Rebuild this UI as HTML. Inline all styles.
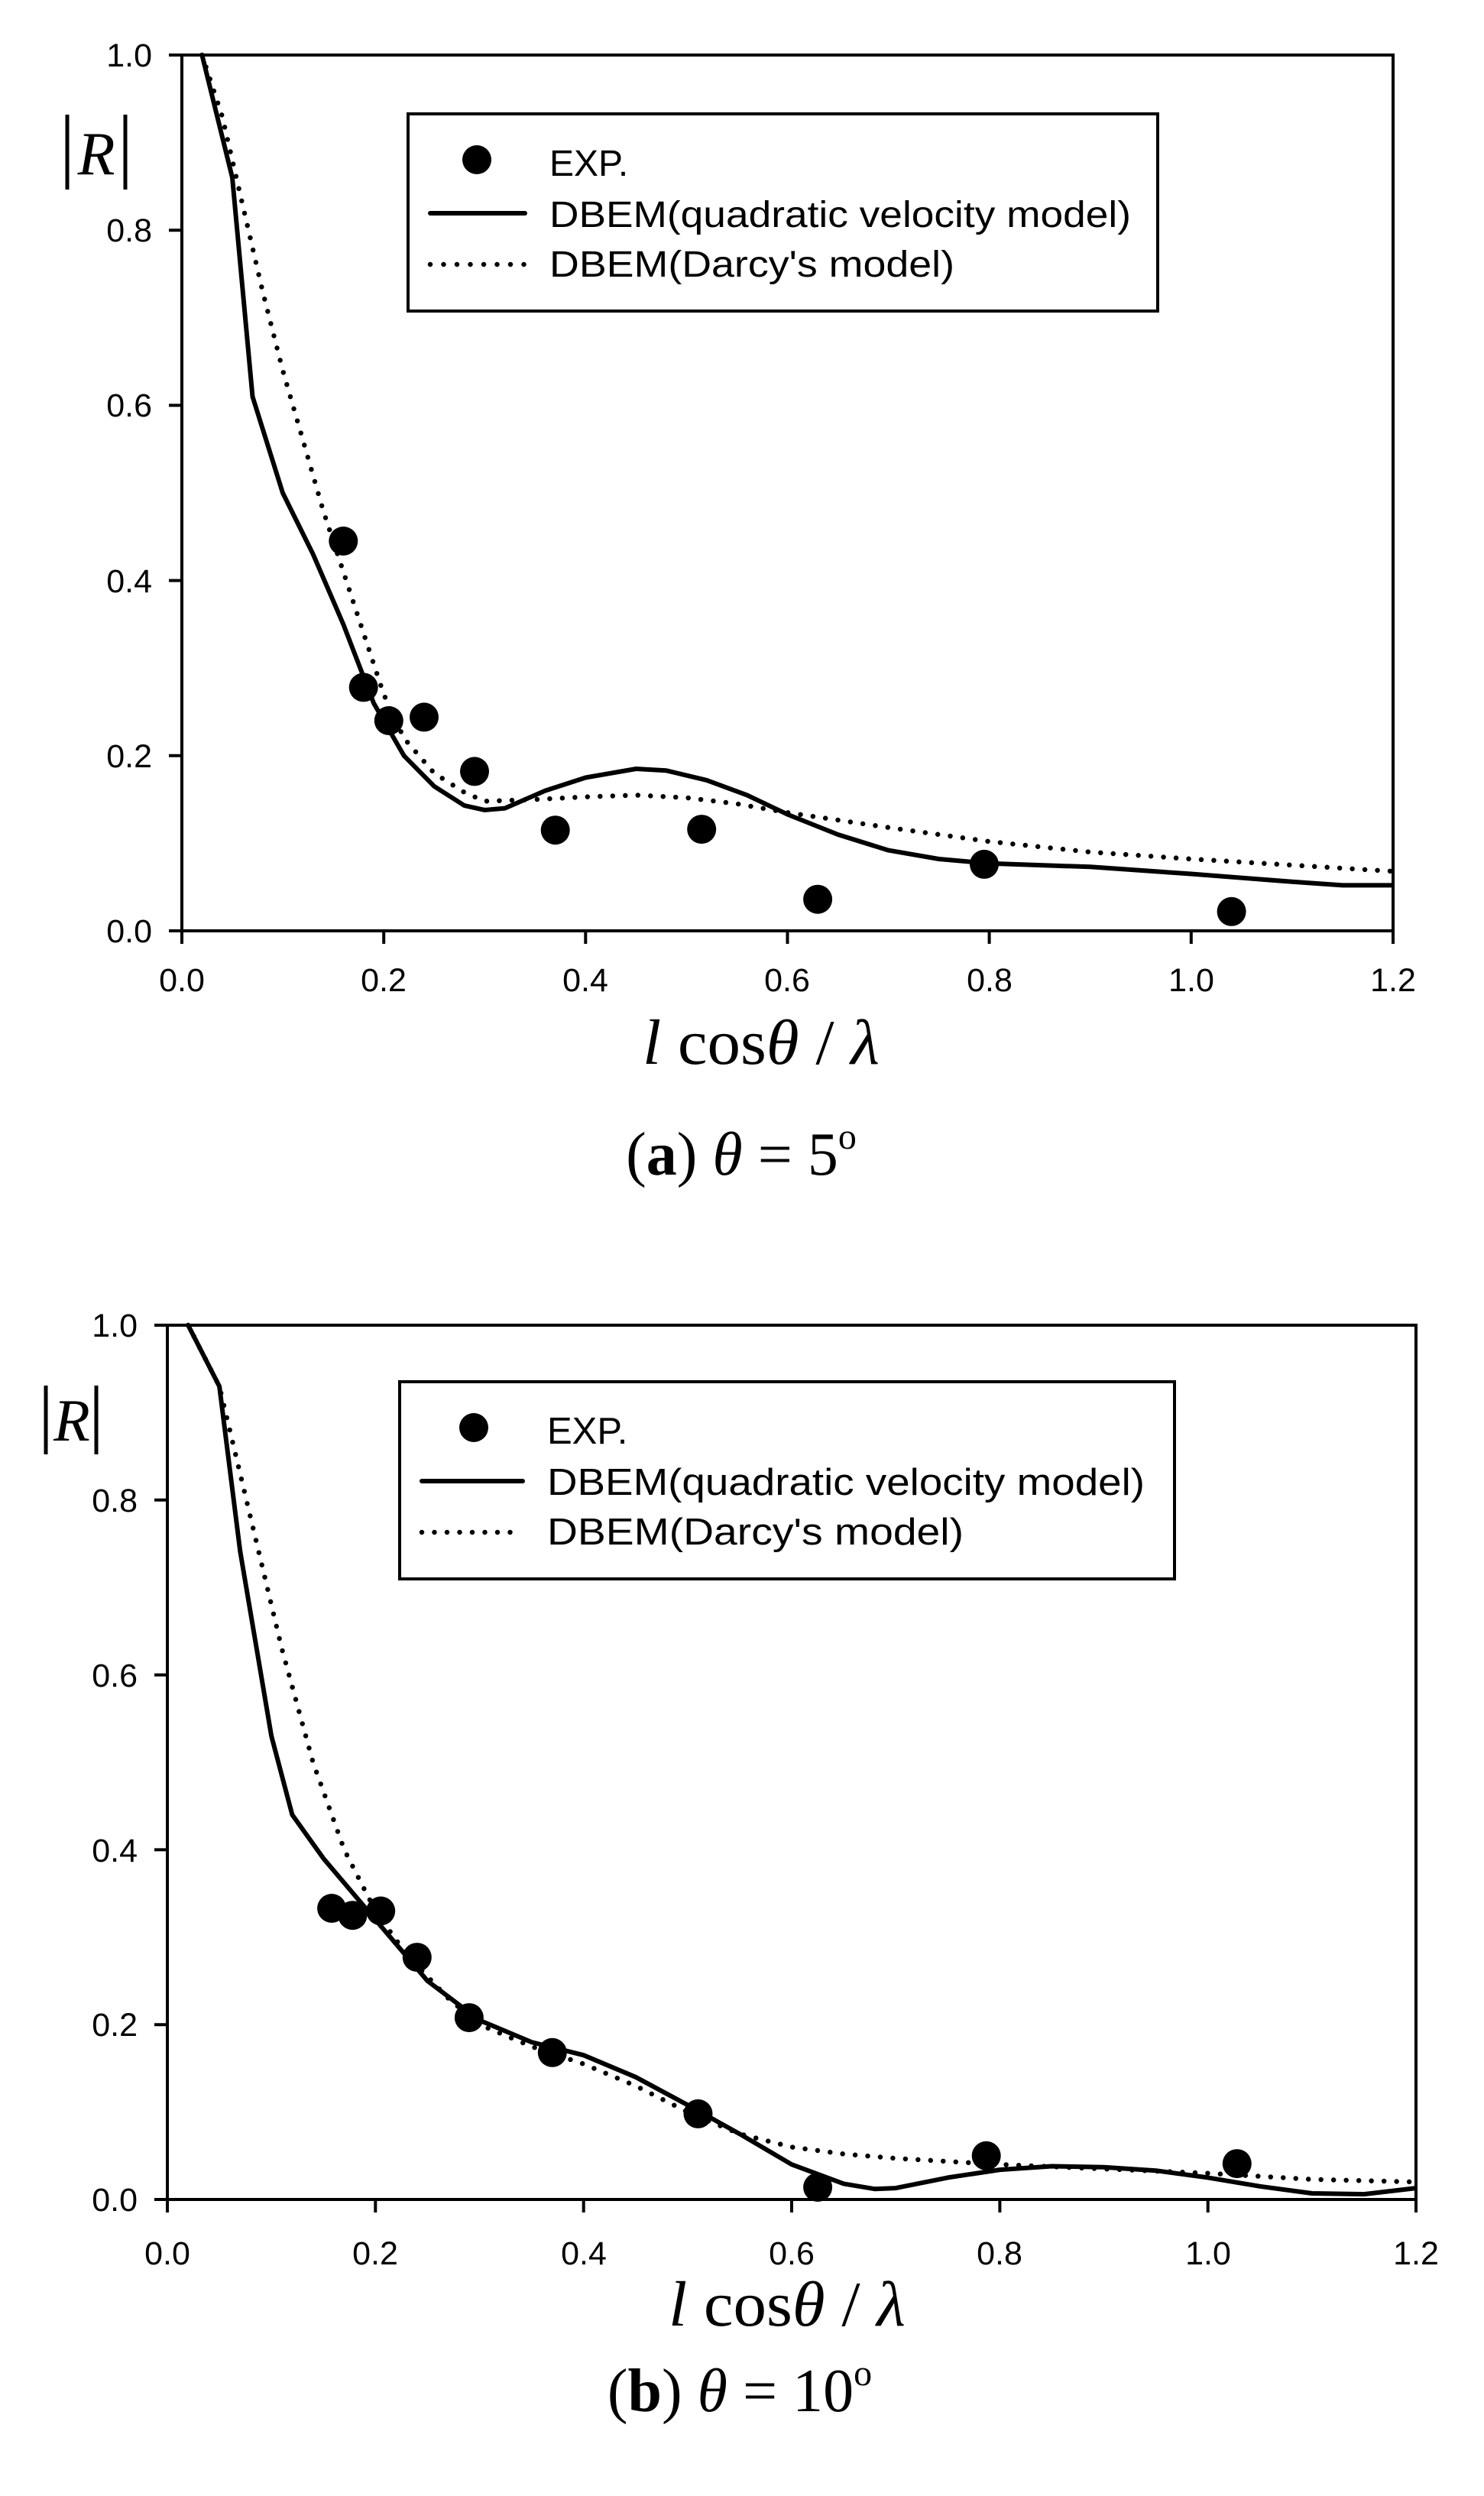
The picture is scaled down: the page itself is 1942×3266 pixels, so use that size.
<!DOCTYPE html>
<html><head><meta charset="utf-8"><style>html,body{margin:0;padding:0;background:#fff}svg{display:block}</style></head>
<body>
<svg width="1942" height="3266" viewBox="0 0 1942 3266" xmlns="http://www.w3.org/2000/svg">
<rect width="1942" height="3266" fill="#fff"/>
<!-- ============ PLOT A ============ -->
<g stroke="#000" stroke-width="4" fill="none">
<rect x="238" y="72" width="1585" height="1146"/>
<path d="M221 72H238M221 301.2H238M221 530.4H238M221 759.6H238M221 988.8H238M221 1218H238"/>
<path d="M238 1218V1235M502.2 1218V1235M766.3 1218V1235M1030.5 1218V1235M1294.6 1218V1235M1558.8 1218V1235M1823 1218V1235"/>
</g>
<g font-family="Liberation Sans, sans-serif" font-size="43" fill="#000" text-anchor="end">
<text x="199" y="87">1.0</text><text x="199" y="316">0.8</text><text x="199" y="545">0.6</text>
<text x="199" y="775">0.4</text><text x="199" y="1004">0.2</text><text x="199" y="1233">0.0</text>
</g>
<g font-family="Liberation Sans, sans-serif" font-size="43" fill="#000" text-anchor="middle">
<text x="238" y="1297">0.0</text><text x="502" y="1297">0.2</text><text x="766" y="1297">0.4</text>
<text x="1030" y="1297">0.6</text><text x="1295" y="1297">0.8</text><text x="1559" y="1297">1.0</text><text x="1823" y="1297">1.2</text>
</g>
<path fill="none" stroke="#000" stroke-width="6" stroke-linejoin="round" d="M264.4 72L304 232.4L330.5 519L370 645L409.7 725.2L449.3 816.9L489 920L528.6 988.8L568.2 1028.9L607.8 1054.1L634.2 1059.9L660.7 1057.6L713.5 1034.6L766.3 1017.5L832.4 1006L872 1008.3L924.8 1020.9L977.6 1040.4L1030.5 1065.6L1096.5 1092L1162.6 1112.6L1228.6 1124L1294.6 1129.8L1426.7 1134.3L1558.8 1143.5L1690.9 1153.8L1756.9 1158.4L1823 1158.4"/>
<path fill="none" stroke="#000" stroke-width="6.5" stroke-linecap="round" stroke-dasharray="0 16.5" d="M264.4 72L290.8 152.2L317.2 266.8L343.7 381.4L370 484.6L396.5 576.2L422.9 668L449.3 748.1L475.7 828.4L502.2 908.6L528.6 965.9L568.2 1011.7L607.8 1036.9L634.2 1048.4L700.3 1046.1L766.3 1042.7L832.4 1040.4L898.4 1043.8L964.4 1051.8L1030.5 1063.3L1162.6 1082.8L1294.6 1101.1L1426.7 1114.9L1558.8 1124L1690.9 1132L1823 1140.1"/>
<g fill="#000">
<circle cx="449.3" cy="708" r="19"/><circle cx="475.7" cy="899.4" r="19"/><circle cx="508.8" cy="943" r="19"/>
<circle cx="555" cy="938.4" r="19"/><circle cx="621" cy="1009.4" r="19"/><circle cx="726.7" cy="1086.2" r="19"/>
<circle cx="918.2" cy="1085.1" r="19"/><circle cx="1070.1" cy="1176.7" r="19"/><circle cx="1288" cy="1130.9" r="19"/>
<circle cx="1611.6" cy="1192.8" r="19"/>
</g>
<!-- legend a -->
<rect x="534" y="149" width="981" height="258" fill="#fff" stroke="#000" stroke-width="4"/>
<circle cx="624" cy="209" r="19" fill="#000"/>
<line x1="563" y1="279" x2="687" y2="279" stroke="#000" stroke-width="6" stroke-linecap="round"/>
<line x1="563" y1="346" x2="687" y2="346" stroke="#000" stroke-width="6.5" stroke-linecap="round" stroke-dasharray="0 17.5"/>
<g font-family="Liberation Sans, sans-serif" font-size="48" fill="#000">
<text x="719" y="230">EXP.</text>
<text x="719" y="297" textLength="761" lengthAdjust="spacingAndGlyphs">DBEM(quadratic velocity model)</text>
<text x="719" y="362" textLength="530" lengthAdjust="spacingAndGlyphs">DBEM(Darcy's model)</text>
</g>
<!-- |R| a -->
<g stroke="#000" stroke-width="5"><line x1="88" y1="150" x2="88" y2="248"/><line x1="164" y1="150" x2="164" y2="248"/></g>
<text x="126" y="228" font-family="Liberation Serif, serif" font-style="italic" font-size="80" text-anchor="middle">R</text>
<text x="996" y="1392" font-family="Liberation Serif, serif" font-size="84" text-anchor="middle" textLength="310" lengthAdjust="spacingAndGlyphs"><tspan font-style="italic">l</tspan> cos<tspan font-style="italic">θ</tspan> / <tspan font-style="italic">λ</tspan></text>
<text x="970" y="1537" font-family="Liberation Serif, serif" font-size="80" text-anchor="middle">(<tspan font-weight="bold">a</tspan>)   <tspan font-style="italic">θ</tspan> = 5<tspan font-size="48" dy="-34">o</tspan></text>

<!-- ============ PLOT B ============ -->
<g stroke="#000" stroke-width="4" fill="none">
<rect x="219" y="1734" width="1634" height="1144"/>
<path d="M202 1734H219M202 1962.8H219M202 2191.6H219M202 2420.4H219M202 2649.2H219M202 2878H219"/>
<path d="M219 2878V2895M491.3 2878V2895M763.7 2878V2895M1036 2878V2895M1308.4 2878V2895M1580.7 2878V2895M1853 2878V2895"/>
</g>
<g font-family="Liberation Sans, sans-serif" font-size="43" fill="#000" text-anchor="end">
<text x="180" y="1749">1.0</text><text x="180" y="1978">0.8</text><text x="180" y="2207">0.6</text>
<text x="180" y="2436">0.4</text><text x="180" y="2664">0.2</text><text x="180" y="2893">0.0</text>
</g>
<g font-family="Liberation Sans, sans-serif" font-size="43" fill="#000" text-anchor="middle">
<text x="219" y="2963">0.0</text><text x="491" y="2963">0.2</text><text x="764" y="2963">0.4</text>
<text x="1036" y="2963">0.6</text><text x="1308" y="2963">0.8</text><text x="1581" y="2963">1.0</text><text x="1853" y="2963">1.2</text>
</g>
<path fill="none" stroke="#000" stroke-width="6" stroke-linejoin="round" d="M246.2 1734L287.1 1814.1L314.3 2030L355.2 2271.7L382.4 2374.6L423.3 2431.8L491.3 2511.9L559.4 2592L627.5 2643.5L695.6 2672.1L763.7 2689.2L831.8 2717.8L899.9 2754.4L967.9 2792.2L1036 2832.2L1104.1 2857.4L1145 2864.3L1172.2 2863.1L1240.3 2849.4L1308.4 2839.1L1376.4 2834.5L1444.5 2835.7L1512.6 2840.2L1580.7 2849.4L1648.8 2860.8L1716.9 2870L1784.9 2871.1L1853 2863.1"/>
<path fill="none" stroke="#000" stroke-width="6.5" stroke-linecap="round" stroke-dasharray="0 16.5" d="M246.2 1734L287.1 1814.1L327.9 1985.7L368.8 2157.3L409.6 2306L450.5 2420.4L491.3 2500.5L532.2 2557.7L586.7 2614.9L627.5 2649.2L695.6 2677.8L763.7 2700.7L831.8 2729.3L899.9 2763.6L967.9 2792.2L1036 2809.4L1104.1 2818.5L1172.2 2824.2L1308.4 2832.2L1444.5 2838L1580.7 2843.7L1716.9 2851.7L1853 2855.1"/>
<g fill="#000">
<circle cx="434.1" cy="2497" r="19"/><circle cx="461.4" cy="2506.2" r="19"/><circle cx="498.2" cy="2500.5" r="19"/>
<circle cx="545.8" cy="2561.1" r="19"/><circle cx="613.9" cy="2640.1" r="19"/><circle cx="722.8" cy="2685.8" r="19"/>
<circle cx="913.5" cy="2765.9" r="19"/><circle cx="1070.1" cy="2862" r="19"/><circle cx="1290.7" cy="2820.8" r="19"/>
<circle cx="1618.8" cy="2831.1" r="19"/>
</g>
<!-- legend b -->
<rect x="523" y="1808" width="1014" height="258" fill="#fff" stroke="#000" stroke-width="4"/>
<circle cx="620" cy="1868" r="19" fill="#000"/>
<line x1="552" y1="1938" x2="684" y2="1938" stroke="#000" stroke-width="6" stroke-linecap="round"/>
<line x1="552" y1="2005" x2="684" y2="2005" stroke="#000" stroke-width="6.5" stroke-linecap="round" stroke-dasharray="0 16.5"/>
<g font-family="Liberation Sans, sans-serif" font-size="49" fill="#000">
<text x="716" y="1889">EXP.</text>
<text x="716" y="1956" textLength="782" lengthAdjust="spacingAndGlyphs">DBEM(quadratic velocity model)</text>
<text x="716" y="2021" textLength="545" lengthAdjust="spacingAndGlyphs">DBEM(Darcy's model)</text>
</g>
<!-- |R| b -->
<g stroke="#000" stroke-width="5"><line x1="60" y1="1813" x2="60" y2="1903"/><line x1="126" y1="1813" x2="126" y2="1903"/></g>
<text x="94" y="1885" font-family="Liberation Serif, serif" font-style="italic" font-size="78" text-anchor="middle">R</text>
<text x="1030" y="3043" font-family="Liberation Serif, serif" font-size="84" text-anchor="middle" textLength="310" lengthAdjust="spacingAndGlyphs"><tspan font-style="italic">l</tspan> cos<tspan font-style="italic">θ</tspan> / <tspan font-style="italic">λ</tspan></text>
<text x="968" y="3155" font-family="Liberation Serif, serif" font-size="80" text-anchor="middle">(<tspan font-weight="bold">b</tspan>)  <tspan font-style="italic">θ</tspan> = 10<tspan font-size="48" dy="-34">o</tspan></text>
</svg>
</body></html>
